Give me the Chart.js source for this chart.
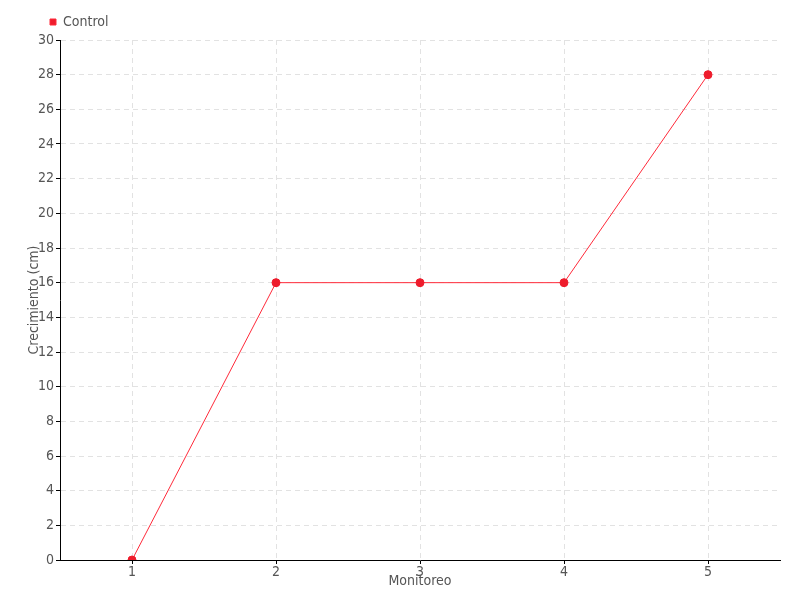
<!DOCTYPE html>
<html>
<head>
<meta charset="utf-8">
<script src="https://cdn.jsdelivr.net/npm/chart.js@4/dist/chart.umd.min.js"></script>
<style>
  html, body { margin: 0; padding: 0; background: #fff; }
  #wrap { width: 800px; height: 600px; }
</style>
</head>
<body>
<div id="wrap"><canvas id="c" width="800" height="600"></canvas></div>
<script>
const categories = ['1', '2', '3', '4', '5'];
const controlValues = [0, 16, 16, 16, 28];
const seriesName = 'Control';
const xTitle = 'Monitoreo';
const yTitle = 'Crecimiento (cm)';

const FONT = "'DejaVu Sans Condensed', 'DejaVu Sans', sans-serif";
const TEXT = '#555555';
const RED = '#ee1c2c';

const legendShift = {
  id: 'legendShift',
  beforeInit(chart) {
    const l = chart.legend;
    if (l) {
      const orig = l.fit;
      l.fit = function () { orig.call(this); this.height = 40; };
    }
  },
  afterLayout(chart) {
    if (chart.legend) chart.legend.left += 35;
  }
};

new Chart(document.getElementById('c'), {
  type: 'line',
  data: {
    labels: categories,
    datasets: [{
      label: seriesName,
      data: controlValues,
      borderColor: '#ff2a3a',
      backgroundColor: RED,
      borderWidth: 1,
      pointRadius: 4,
      pointBackgroundColor: RED,
      pointBorderColor: RED,
      pointBorderWidth: 1,
      tension: 0,
      fill: false
    }]
  },
  options: {
    responsive: false,
    animation: false,
    layout: { padding: { left: 0, right: 20, top: 0, bottom: 0 } },
    plugins: {
      legend: {
        display: true,
        position: 'top',
        align: 'start',
        labels: {
          boxWidth: 6,
          boxHeight: 6,
          padding: 15,
          color: TEXT,
          font: { family: FONT, size: 14 }
        }
      },
      tooltip: { enabled: false }
    },
    scales: {
      x: {
        type: 'category',
        offset: true,
        grid: {
          display: true,
          color: '#e2e2e2',
          lineWidth: 1,
          drawTicks: true,
          tickLength: 4,
          tickColor: '#000'
        },
        border: { display: true, color: '#000', width: 1, dash: [5, 4] },
        ticks: { color: TEXT, padding: 0, font: { family: FONT, size: 14 } },
        title: {
          display: true,
          text: xTitle,
          color: TEXT,
          font: { family: FONT, size: 14 },
          padding: { top: 0, bottom: 10 }
        },
        afterFit(scale) { scale.height = 40; }
      },
      y: {
        min: 0,
        max: 30,
        grid: {
          display: true,
          color: '#e2e2e2',
          lineWidth: 1,
          drawTicks: true,
          tickLength: 4,
          tickColor: '#000'
        },
        border: { display: true, color: '#000', width: 1, dash: [5, 4] },
        ticks: { stepSize: 2, color: TEXT, padding: 2, font: { family: FONT, size: 14 } },
        title: {
          display: true,
          text: yTitle,
          color: TEXT,
          font: { family: FONT, size: 14 },
          padding: { top: 26, bottom: 0 }
        },
        afterFit(scale) { scale.width = 60; }
      }
    }
  },
  plugins: [legendShift]
});
</script>
</body>
</html>
